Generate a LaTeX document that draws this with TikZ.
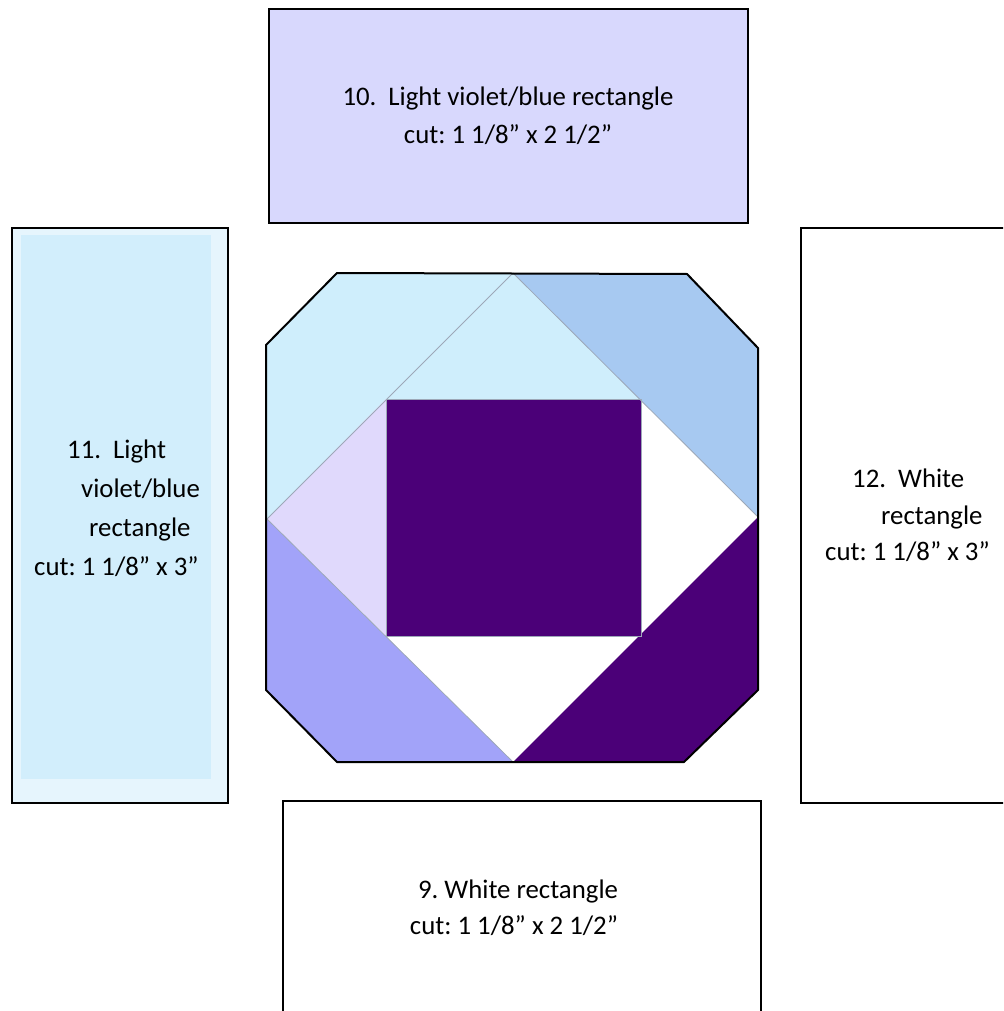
\documentclass[tikz,border=0pt]{standalone}
\usepackage{fontspec}
\setmainfont{Carlito}
\frenchspacing
\definecolor{topfill}{HTML}{D8D8FD}
\definecolor{leftouter}{HTML}{E6F5FD}
\definecolor{leftinner}{HTML}{D2EEFC}
\definecolor{cyanp}{HTML}{CFEEFC}
\definecolor{bluep}{HTML}{A7C9F1}
\definecolor{lavp}{HTML}{E0D9FC}
\definecolor{perip}{HTML}{A2A3F9}
\definecolor{purp}{HTML}{4B0078}
\definecolor{seam}{HTML}{9DA8B8}
\begin{document}
\begin{tikzpicture}[x=1pt,y=-1pt,
  lbl/.style={anchor=base west, inner sep=0pt, font=\fontsize{26.8}{38}\selectfont},
  lblc/.style={anchor=base, inner sep=0pt, font=\fontsize{26.8}{38}\selectfont},
  box/.style={draw=black, line width=2.2pt},
  seamline/.style={draw=seam, line width=0.8pt},
  outline/.style={draw=black, line width=2pt, line join=round}]
\useasboundingbox (0,0) rectangle (1003,1011);
\clip (0,0) rectangle (1003,1011);
\fill[white] (0,0) rectangle (1003,1011);
% rectangles
\draw[box, fill=topfill] (269,9) rectangle (748,223);
\draw[box, fill=leftouter] (12,228) rectangle (228,803);
\fill[leftinner] (21,235) rectangle (211,779);
\draw[box] (801,228) rectangle (1012,803);
\draw[box] (283,801) rectangle (761,1022);
% block pieces
\fill[cyanp] (337,273) -- (513,273) -- (641,399) -- (386,399) -- (267,519) -- (267,345) -- cycle;
\fill[bluep] (513,273) -- (687,273) -- (758,348) -- (758,517) -- cycle;
\fill[lavp] (386,399) -- (386,636) -- (267,519) -- cycle;
\fill[perip] (267,519) -- (513,762) -- (337,762) -- (267,690) -- cycle;
\fill[purp] (758,517) -- (758,690) -- (684,762) -- (513,762) -- cycle;
\fill[purp] (386,399) rectangle (641,636);
% seams
\draw[seamline] (267,519) -- (513,273) -- (758,517);
\draw[seamline] (267,519) -- (513,762);
\draw[seamline] (386,399) rectangle (641,636);
% outline
\draw[outline] (337,273) -- (687,274) -- (758,348) -- (758,690) -- (684,762) -- (337,762) -- (266,690) -- (266,345) -- cycle;
% labels
\node[lblc] (t10a) at (508,106) {10.\hspace{0.45em}Light violet/blue rectangle};
\node[lblc] (t10b) at (508,144) {cut: 1 1/8” x 2 1/2”};
\node[lblc] (t9a) at (518,898) {9. White rectangle};
\node[lblc] (t9b) at (514,934) {cut: 1 1/8” x 2 1/2”};
\node[lbl] (t11a) at (67,458) {11.\hspace{0.45em}Light};
\node[lbl] (t11b) at (81,497) {violet/blue};
\node[lbl] (t11c) at (89,536) {rectangle};
\node[lbl] (t11d) at (34,575) {cut: 1 1/8” x 3”};
\node[lbl] (t12a) at (852,487) {12.\hspace{0.45em}White};
\node[lbl] (t12b) at (881,524) {rectangle};
\node[lbl] (t12c) at (825,560) {cut: 1 1/8” x 3”};
\end{tikzpicture}
\end{document}
